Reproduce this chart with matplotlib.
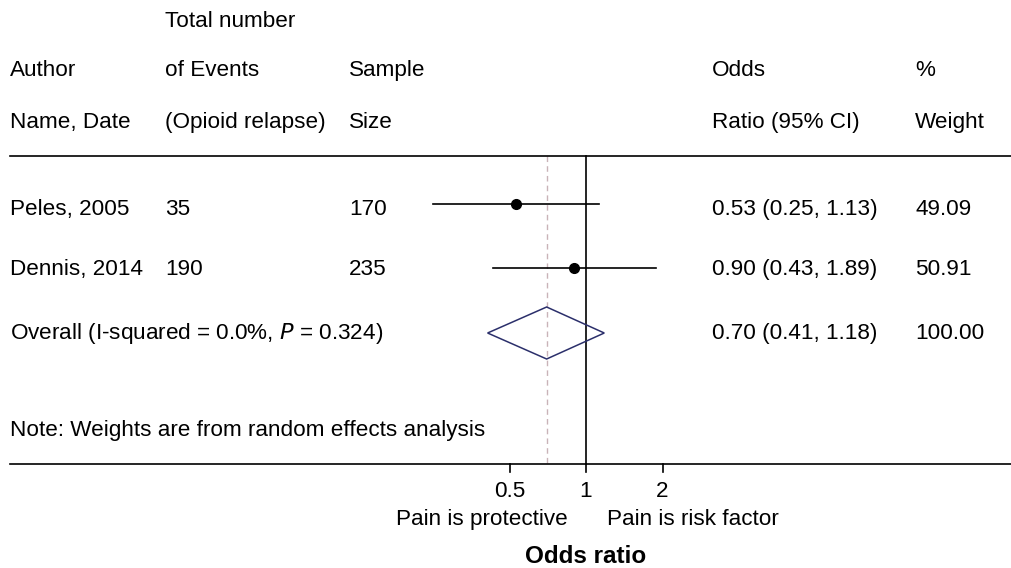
import numpy as np
import matplotlib.pyplot as plt
from matplotlib.patches import Polygon
from matplotlib.transforms import blended_transform_factory

plt.rcParams['font.family'] = ['Liberation Sans', 'DejaVu Sans']

# данные
authors = ['Peles, 2005', 'Dennis, 2014']
events = [35, 190]
sizes = [170, 235]
odds = [0.53, 0.90]
lo = [0.25, 0.43]
hi = [1.13, 1.89]
weights = ['49.09', '50.91']
overall = 0.70
overall_lo = 0.41
overall_hi = 1.18
ticks = [0.5, 1, 2]

W, H = 1011, 568
fig = plt.figure(figsize=(W / 100, H / 100), dpi=100)
ax = fig.add_axes([0, 0, 1, 1])
ax.set_xscale('log')
# 1 -> 586 px, одно удвоение = 76.5 px
x1, octave = 586, 76.5
ax.set_xlim(2 ** (-x1 / octave), 2 ** ((W - x1) / octave))
ax.set_ylim(H, 0)
ax.axis('off')

fs = 16.2
tr = blended_transform_factory(fig.transFigure, ax.transData)

def put(x, y, s, **kw):
    ax.text(x / W, y, s, transform=tr, fontsize=fs, va='baseline', **kw)

# шапка
put(165, 27, 'Total number')
put(10, 76, 'Author')
put(165, 76, 'of Events')
put(349, 76, 'Sample')
put(712, 76, 'Odds')
put(915, 76, '%')
put(10, 128, 'Name, Date')
put(165, 128, '(Opioid relapse)')
put(349, 128, 'Size')
put(712, 128, 'Ratio (95% CI)')
put(915, 128, 'Weight')

top, bottom = 156, 464
ax.axhline(top, xmin=10 / W, xmax=1, color='black', lw=1.2)
ax.axhline(bottom, xmin=10 / W, xmax=1, color='black', lw=1.2)

rows = [204, 268]
base = [215, 275]
for i in range(len(authors)):
    y = rows[i]
    b = base[i]
    put(10, b, authors[i])
    put(165, b, str(events[i]))
    put(349, b, str(sizes[i]))
    put(712, b, f'{odds[i]:.2f} ({lo[i]:.2f}, {hi[i]:.2f})')
    put(915, b, weights[i])
    ax.plot([lo[i], hi[i]], [y, y], color='black', lw=1.2, zorder=3)
    ax.plot(odds[i], y, 'o', color='black', ms=7, zorder=4)

# итог
yo = 333
put(10, 339, 'Overall (I-squared = 0.0%, $\\it{P}$ = 0.324)')
put(712, 339, f'{overall:.2f} ({overall_lo:.2f}, {overall_hi:.2f})')
put(915, 339, '100.00')
dh = 26
diamond = Polygon([[overall_lo, yo], [overall, yo - dh], [overall_hi, yo], [overall, yo + dh]],
                  closed=True, fill=False, edgecolor='#2b2f6b', lw=1.1, zorder=3)
ax.add_patch(diamond)

put(10, 436, 'Note: Weights are from random effects analysis')

ax.plot([1, 1], [top, bottom], color='black', lw=1.2, zorder=2)
ax.plot([overall, overall], [top, bottom], color='#c9b3b8', lw=1, ls=(0, (4, 3)), zorder=1)

# ось
for t in ticks:
    ax.plot([t, t], [bottom, bottom + 8], color='black', lw=1.2)
    ax.text(t, 497, f'{t:g}', fontsize=fs, ha='center', va='baseline')

put(568, 525, 'Pain is protective', ha='right')
put(607, 525, 'Pain is risk factor', ha='left')
ax.text(1, 563, 'Odds ratio', fontsize=17.5, ha='center', va='baseline', fontweight='bold')

fig.savefig('out.png', dpi=100)
